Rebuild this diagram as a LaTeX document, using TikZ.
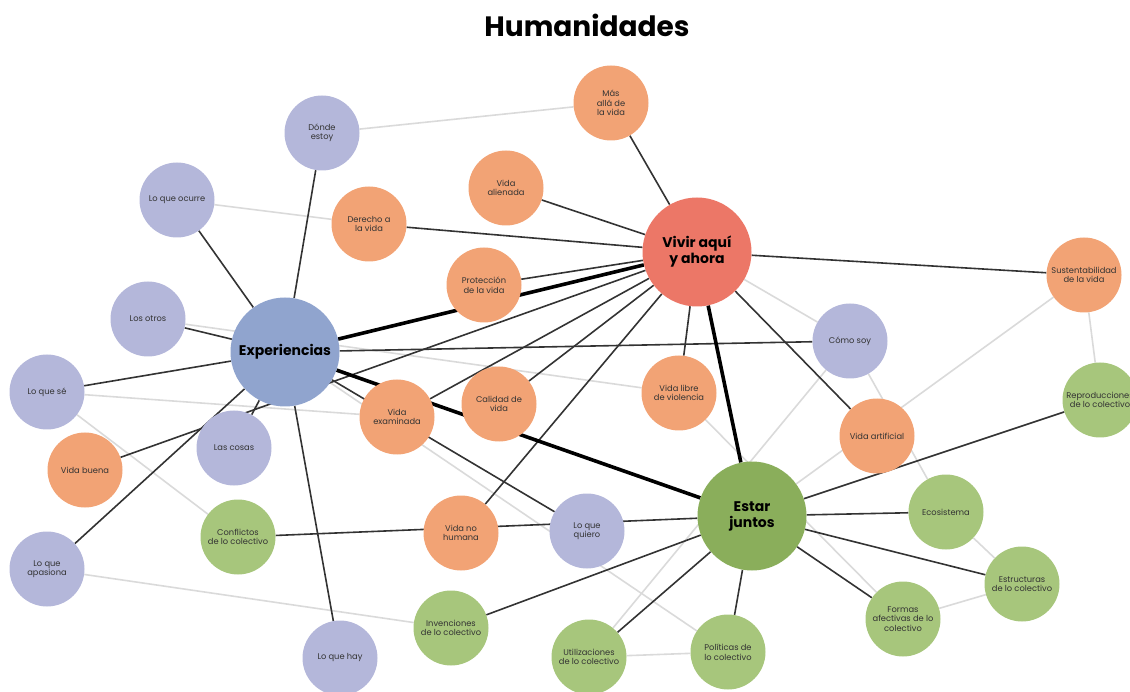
\documentclass[tikz,border=0pt]{standalone}
\usepackage{fontspec}
\setmainfont{Poppins}
\usepackage{xcolor}
\usetikzlibrary{backgrounds}

\definecolor{lavcol}{HTML}{B4B7DA}
\definecolor{orcol}{HTML}{F2A375}
\definecolor{grcol}{HTML}{A7C67C}
\definecolor{expcol}{HTML}{90A4CE}
\definecolor{vivcol}{HTML}{EC7767}
\definecolor{estcol}{HTML}{8AAE5B}
\definecolor{lightline}{HTML}{DADADA}
\definecolor{darkline}{HTML}{333333}

\begin{document}
\begin{tikzpicture}[x=1pt, y=-1pt,
    topic/.style={circle, inner sep=0pt, minimum size=75pt, align=center,
        font=\fontsize{8.3}{9.6}\selectfont, text=black!80},
    lav/.style={topic, fill=lavcol},
    ora/.style={topic, fill=orcol},
    grn/.style={topic, fill=grcol},
    hub/.style={circle, inner sep=0pt, minimum size=109pt, align=center,
        font=\fontsize{14}{16}\selectfont\bfseries},
    link/.style={draw=darkline, line width=1.6pt},
    strong/.style={draw=black, line width=3.6pt},
    faint/.style={draw=lightline, line width=1.6pt}]
    \useasboundingbox (0,0) rectangle (1130,692);

    % Title
    \node[font=\fontsize{28}{32}\selectfont\bfseries] (title) at (587,25) {Humanidades};

    % Hubs
    \node[hub, fill=vivcol] (vivir) at (697,252) {Vivir aquí\\y ahora};
    \node[hub, fill=expcol] (exp) at (285,352) {Experiencias};
    \node[hub, fill=estcol] (estar) at (752,516) {Estar\\juntos};

    % Experiencias (lavender)
    \node[lav] (donde) at (322,133) {Dónde\\estoy};
    \node[lav] (ocurre) at (177,200) {Lo que ocurre};
    \node[lav] (otros) at (148,319) {Los otros};
    \node[lav] (lose) at (47,392) {Lo que sé};
    \node[lav] (cosas) at (234,448) {Las cosas};
    \node[lav] (apasiona) at (47,569) {Lo que\\apasiona};
    \node[lav] (hay) at (340,658) {Lo que hay};
    \node[lav] (quiero) at (587,531) {Lo que\\quiero};
    \node[lav] (como) at (850,341) {Cómo soy};

    % Vida (orange)
    \node[ora] (masalla) at (611,103) {Más\\allá de\\la vida};
    \node[ora] (alienada) at (506,188) {Vida\\alienada};
    \node[ora] (derecho) at (369,224) {Derecho a\\la vida};
    \node[ora] (proteccion) at (484,285) {Protección\\de la vida};
    \node[ora] (buena) at (85,470) {Vida buena};
    \node[ora] (examinada) at (397,417) {Vida\\examinada};
    \node[ora] (calidad) at (499,404) {Calidad de\\vida};
    \node[ora] (libre) at (679,393) {Vida libre\\de violencia};
    \node[ora] (artificial) at (877,436) {Vida artificial};
    \node[ora] (sustent) at (1084,275) {Sustentabilidad\\de la vida};
    \node[ora] (nohumana) at (461,533) {Vida no\\humana};

    % Colectivo (green)
    \node[grn] (reprod) at (1100,400) {Reproducciones\\de lo colectivo};
    \node[grn] (ecosis) at (946,512) {Ecosistema};
    \node[grn] (estruct) at (1022,584) {Estructuras\\de lo colectivo};
    \node[grn] (formas) at (903,619) {Formas\\afectivas de lo\\colectivo};
    \node[grn] (politicas) at (728,652) {Políticas de\\lo colectivo};
    \node[grn] (utiliz) at (589,657) {Utilizaciones\\de lo colectivo};
    \node[grn] (invenc) at (451,628) {Invenciones\\de lo colectivo};
    \node[grn] (conflictos) at (238,537) {Conflictos\\de lo colectivo};

    \begin{scope}[on background layer]
        % Light connections
        \draw[faint] (donde) -- (masalla) (ocurre) -- (derecho) (otros) -- (libre)
            (lose) -- (examinada) (lose) -- (conflictos) (exp) -- (politicas)
            (apasiona) -- (invenc) (vivir) -- (como) (como) -- (utiliz)
            (como) -- (ecosis) (libre) -- (formas) (sustent) -- (estar)
            (sustent) -- (reprod) (ecosis) -- (estruct) (formas) -- (estruct)
            (utiliz) -- (politicas);

        % Vivir aquí y ahora
        \draw[link] (vivir) -- (masalla) (vivir) -- (alienada) (vivir) -- (derecho)
            (vivir) -- (proteccion) (vivir) -- (buena) (vivir) -- (examinada)
            (vivir) -- (calidad) (vivir) -- (nohumana) (vivir) -- (libre)
            (vivir) -- (artificial) (vivir) -- (sustent);

        % Experiencias
        \draw[link] (exp) -- (donde) (exp) -- (ocurre) (exp) -- (otros)
            (exp) -- (lose) (exp) -- (cosas) (exp) -- (apasiona) (exp) -- (hay)
            (exp) -- (quiero) (exp) -- (como);

        % Estar juntos
        \draw[link] (estar) -- (conflictos) (estar) -- (invenc) (estar) -- (utiliz)
            (estar) -- (politicas) (estar) -- (formas) (estar) -- (estruct)
            (estar) -- (ecosis) (estar) -- (reprod);

        % Between hubs
        \draw[strong] (exp) -- (vivir) (vivir) -- (estar) (exp) -- (estar);
    \end{scope}
\end{tikzpicture}
\end{document}
